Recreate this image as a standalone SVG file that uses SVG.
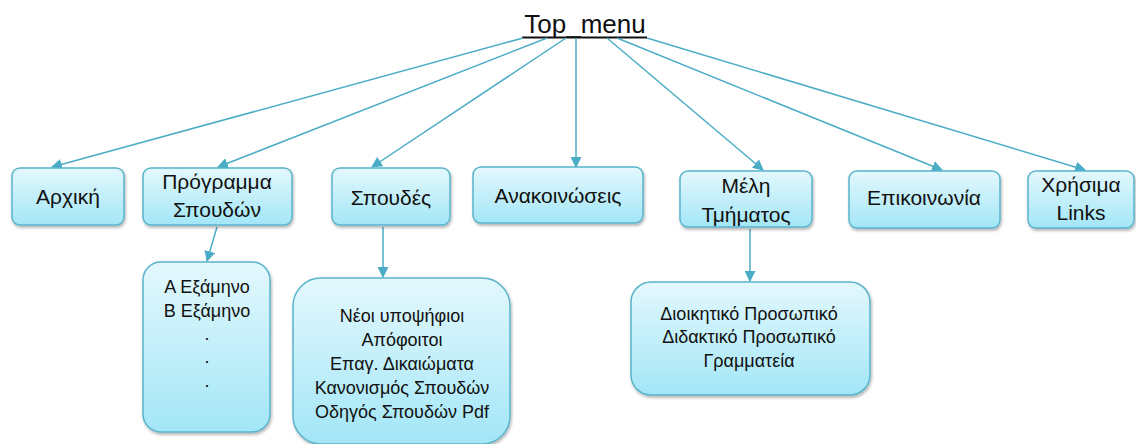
<svg xmlns="http://www.w3.org/2000/svg" width="1136" height="444" viewBox="0 0 1136 444">
<defs>
<linearGradient id="g" x1="0" y1="0" x2="0" y2="1">
<stop offset="0" stop-color="#e3f8fd"/>
<stop offset="1" stop-color="#a3e6f7"/>
</linearGradient>
<filter id="sh" x="-10%" y="-10%" width="120%" height="130%">
<feDropShadow dx="1" dy="2" stdDeviation="1.5" flood-color="#000" flood-opacity="0.3"/>
</filter>
<marker id="ah" viewBox="0 0 10 10" refX="9" refY="5" markerWidth="11" markerHeight="11" markerUnits="userSpaceOnUse" orient="auto">
<path d="M0,0 L10,5 L0,10 z" fill="#4bacc6"/>
</marker>
</defs>
<style>
.box{fill:url(#g);stroke:#5ab4cb;stroke-width:1.5;filter:url(#sh)}
.t{font-family:"Liberation Sans",Arial,sans-serif;font-size:21px;fill:#111;text-anchor:middle}
.s{font-family:"Liberation Sans",Arial,sans-serif;font-size:18px;fill:#111;text-anchor:middle}
.c{stroke:#4bacc6;stroke-width:1.5;fill:none;marker-end:url(#ah)}
</style>
<rect width="1136" height="444" fill="#fff"/>
<g id="top_menu">
<text x="585" y="33" font-family="'Liberation Sans',Arial,sans-serif" font-size="26" fill="#111" text-anchor="middle">Top_menu</text>
<line x1="522" y1="37.5" x2="647" y2="37.5" stroke="#111" stroke-width="2"/>
</g>
<g id="connectors">
<line class="c" x1="523" y1="38" x2="52" y2="167"/>
<line class="c" x1="547" y1="38" x2="218" y2="167"/>
<line class="c" x1="566" y1="38" x2="372" y2="167"/>
<line class="c" x1="576" y1="38" x2="576" y2="167"/>
<line class="c" x1="607" y1="38" x2="763" y2="170"/>
<line class="c" x1="617" y1="38" x2="942" y2="170"/>
<line class="c" x1="647" y1="38" x2="1085" y2="170"/>
<line class="c" x1="217" y1="227" x2="207" y2="261"/>
<line class="c" x1="383" y1="227" x2="383" y2="277"/>
<line class="c" x1="750" y1="229" x2="750" y2="281"/>
</g>
<g id="arxiki">
<rect class="box" x="12" y="168" width="112" height="57" rx="8"/>
<text class="t" x="68" y="204">Αρχική</text>
</g>
<g id="programma">
<rect class="box" x="143" y="168" width="149" height="57" rx="8"/>
<text class="t" x="217" y="189">Πρόγραμμα</text>
<text class="t" x="217" y="217">Σπουδών</text>
</g>
<g id="spoudes">
<rect class="box" x="332" y="168" width="118" height="57" rx="8"/>
<text class="t" x="391" y="205">Σπουδές</text>
</g>
<g id="anakoinoseis">
<rect class="box" x="473" y="167" width="170" height="56" rx="8"/>
<text class="t" x="558" y="203">Ανακοινώσεις</text>
</g>
<g id="meli">
<rect class="box" x="680" y="171" width="132" height="56" rx="8"/>
<text class="t" x="746" y="193">Μέλη</text>
<text class="t" x="746" y="222">Τμήματος</text>
</g>
<g id="epikoinonia">
<rect class="box" x="849" y="171" width="151" height="57" rx="8"/>
<text class="t" x="924" y="205">Επικοινωνία</text>
</g>
<g id="xrisima">
<rect class="box" x="1028" y="171" width="106" height="57" rx="8"/>
<text class="t" x="1081" y="192">Χρήσιμα</text>
<text class="t" x="1081" y="220">Links</text>
</g>
<g id="examina">
<rect class="box" x="143" y="262" width="127" height="170" rx="18"/>
<text class="s" x="207" y="293">Α Εξάμηνο</text>
<text class="s" x="207" y="317">Β Εξάμηνο</text>
<text class="s" x="207" y="340">.</text>
<text class="s" x="207" y="363">.</text>
<text class="s" x="207" y="387">.</text>
</g>
<g id="spoudes_sub">
<rect class="box" x="293" y="278" width="217" height="166" rx="28"/>
<text class="s" x="402" y="322">Νέοι υποψήφιοι</text>
<text class="s" x="402" y="346">Απόφοιτοι</text>
<text class="s" x="402" y="370">Επαγ. Δικαιώματα</text>
<text class="s" x="402" y="394">Κανονισμός Σπουδών</text>
<text class="s" x="402" y="418">Οδηγός Σπουδών Pdf</text>
</g>
<g id="meli_sub">
<rect class="box" x="631" y="282" width="239" height="113" rx="20"/>
<text class="s" x="749" y="320">Διοικητικό Προσωπικό</text>
<text class="s" x="749" y="343">Διδακτικό Προσωπικό</text>
<text class="s" x="749" y="367">Γραμματεία</text>
</g>
</svg>
